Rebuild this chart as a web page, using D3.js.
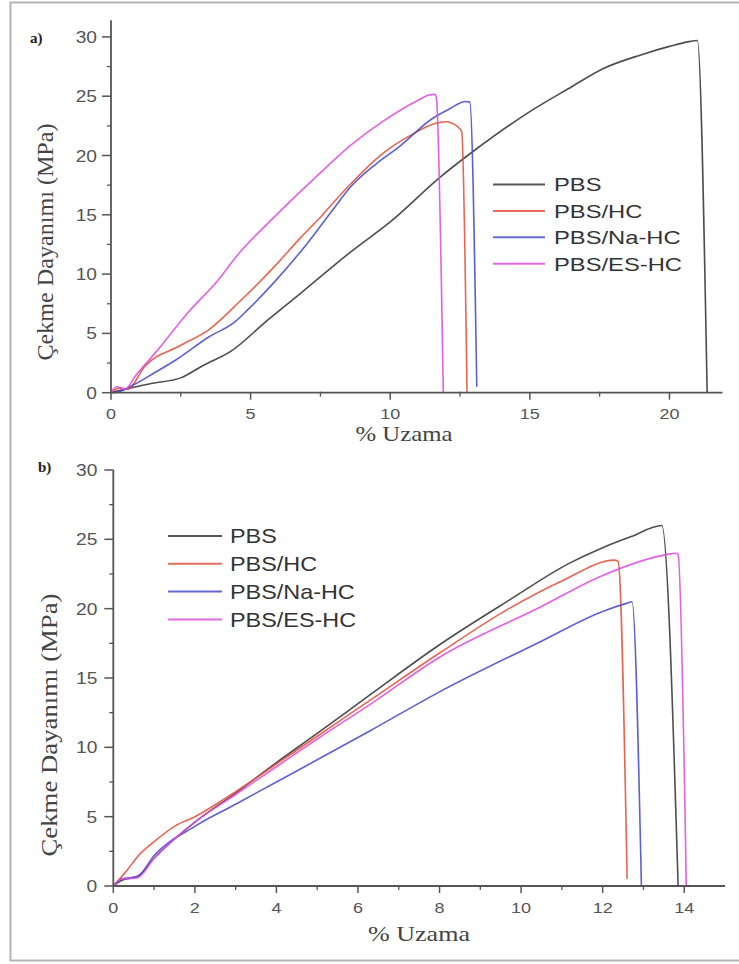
<!DOCTYPE html>
<html>
<head>
<meta charset="utf-8">
<script src="https://cdn.jsdelivr.net/npm/d3@7/dist/d3.min.js"></script>
<style>
  html, body { margin: 0; padding: 0; background: #fff; }
  svg { display: block; }
</style>
</head>
<body>
<svg id="chart" width="739" height="964"></svg>
<script>
// ---------- DATA ----------
const seriesNames = ["PBS", "PBS/HC", "PBS/Na-HC", "PBS/ES-HC"];

// Panel a) strain (%) / stress (MPa)
const aPBS_x   = [0, 0.5, 1.5, 2.5, 3.3, 4.3, 5.6, 6.8, 8.6, 10.0, 11.8, 13.0, 15.0, 16.5, 17.6, 19.0, 20.0, 20.7, 21.0, 21.35];
const aPBS_y   = [0, 0.3, 0.8, 1.25, 2.3, 3.5, 6.1, 8.4, 11.9, 14.4, 18.2, 20.4, 23.7, 25.8, 27.3, 28.5, 29.2, 29.6, 29.7, 0.05];
const aHC_x    = [0, 0.3, 0.6, 1.2, 2.5, 3.5, 4.7, 5.8, 6.8, 7.5, 8.3, 9.75, 10.8, 11.6, 12.0, 12.4, 12.56, 12.75];
const aHC_y    = [0, 0.4, 0.3, 2.2, 4.0, 5.3, 7.9, 10.5, 13.1, 14.8, 16.9, 20.2, 21.8, 22.7, 22.85, 22.45, 22.0, 0.05];
const aNa_x    = [0, 0.3, 0.8, 1.5, 2.35, 3.5, 4.4, 4.9, 5.8, 7.0, 8.0, 8.6, 9.5, 10.35, 11.5, 12.1, 12.7, 12.85, 13.1];
const aNa_y    = [0, 0.1, 0.65, 1.6, 2.8, 4.7, 5.9, 7.0, 9.2, 12.5, 15.6, 17.4, 19.3, 20.8, 23.1, 23.9, 24.55, 24.5, 0.5];
const aES_x    = [0, 0.2, 0.5, 0.9, 1.6, 2.7, 3.8, 4.6, 5.8, 6.8, 7.3, 8.6, 9.75, 10.95, 11.4, 11.6, 11.65, 11.9];
const aES_y    = [0, 0.5, 0.3, 1.5, 3.4, 6.6, 9.4, 11.8, 14.7, 17.0, 18.1, 20.9, 22.9, 24.6, 25.1, 25.15, 24.9, 0.05];

// Panel b)
const bPBS_x   = [0, 0.2, 0.6, 1.0, 2.0, 3.0, 4.0, 5.0, 6.3, 8.0, 9.7, 11.2, 12.0, 12.7, 13.45, 13.85];
const bPBS_y   = [0, 0.4, 0.7, 2.0, 4.6, 6.7, 8.9, 11.0, 13.8, 17.4, 20.6, 23.3, 24.4, 25.2, 26.0, 0.05];
const bHC_x    = [0, 0.3, 0.65, 1.0, 1.5, 2.0, 3.0, 4.0, 5.0, 6.3, 8.0, 9.7, 11.0, 12.3, 12.38, 12.6];
const bHC_y    = [0, 1.0, 2.3, 3.2, 4.3, 5.0, 6.8, 8.8, 10.8, 13.4, 16.8, 20.0, 22.0, 23.5, 23.4, 0.5];
const bNa_x    = [0, 0.2, 0.6, 1.0, 2.0, 3.0, 4.0, 5.0, 6.3, 8.0, 10.46, 12.0, 12.6, 12.72, 12.95];
const bNa_y    = [0, 0.5, 0.7, 2.2, 4.3, 5.9, 7.5, 9.1, 11.2, 14.0, 17.6, 19.8, 20.4, 20.5, 0.05];
const bES_x    = [0, 0.2, 0.6, 1.0, 2.0, 3.0, 4.0, 5.0, 6.3, 8.0, 10.46, 12.0, 13.56, 13.8, 13.85, 14.05];
const bES_y    = [0, 0.5, 0.6, 2.0, 4.6, 6.6, 8.6, 10.6, 13.1, 16.5, 20.1, 22.4, 23.9, 24.0, 23.9, 0.05];

const aXTicks = [0, 5, 10, 15, 20];
const bXTicks = [0, 2, 4, 6, 8, 10, 12, 14];
const yTicks  = [0, 5, 10, 15, 20, 25, 30];

const yLabel = "Çekme Dayanımı (MPa)";
const xLabel = "% Uzama";

// ---------- STYLE ----------
const colors = ["#3a3a3a", "#e2553e", "#4b4fcc", "#e04ee0"];
const axisColor = "#555";
const tickTextColor = "#555";

const svg = d3.select("#chart");

// frame
svg.append("rect").attr("x", 10.5).attr("y", 2.5).attr("width", 760).attr("height", 958)
   .attr("fill", "none").attr("stroke", "#b4b4b4").attr("stroke-width", 2);

function zip(xs, ys) { return xs.map((x, i) => [x, ys[i]]); }

function panel(cfg) {
  const x = d3.scaleLinear().domain(cfg.xDomain).range(cfg.xRange);
  const y = d3.scaleLinear().domain(cfg.yDomain).range(cfg.yRange);
  const g = svg.append("g");

  // curves
  const line = d3.line().x(d => x(d[0])).y(d => y(d[1])).curve(d3.curveMonotoneX);
  cfg.series.forEach((s, i) => {
    g.append("path").datum(s).attr("d", line)
      .attr("fill", "none").attr("stroke", colors[i]).attr("stroke-width", 1.6)
      .attr("stroke-linejoin", "round").attr("stroke-opacity", 0.9);
  });

  // axes lines
  const y0 = y(0);
  g.append("line").attr("x1", x(0)).attr("x2", cfg.xRange[1]).attr("y1", y0).attr("y2", y0)
    .attr("stroke", axisColor).attr("stroke-width", 1.8);
  g.append("line").attr("x1", x(0)).attr("x2", x(0)).attr("y1", y0).attr("y2", cfg.yRange[1])
    .attr("stroke", axisColor).attr("stroke-width", 1.8);

  // x major ticks
  cfg.xTicks.forEach(t => {
    g.append("line").attr("x1", x(t)).attr("x2", x(t)).attr("y1", y0).attr("y2", y0 + 7)
      .attr("stroke", axisColor).attr("stroke-width", 1.5);
    g.append("text").attr("transform", `translate(${x(t)},${y0 + cfg.xLabelOff}) scale(1.2,1)`)
      .attr("text-anchor", "middle").attr("font-family", "Liberation Sans, Arial, sans-serif")
      .attr("font-size", 15).attr("fill", tickTextColor).text(t);
  });
  // x minor ticks
  for (let i = 0; i < cfg.xTicks.length; i++) {
    const step = cfg.xTicks[1] - cfg.xTicks[0];
    const m = cfg.xTicks[i] + step / 2;
    if (x(m) < cfg.xRange[1]) {
      g.append("line").attr("x1", x(m)).attr("x2", x(m)).attr("y1", y0 - 1).attr("y2", y0 + 4)
        .attr("stroke", axisColor).attr("stroke-width", 1.3);
    }
  }
  // y major ticks
  yTicks.forEach(t => {
    g.append("line").attr("x1", x(0) - 9).attr("x2", x(0)).attr("y1", y(t)).attr("y2", y(t))
      .attr("stroke", axisColor).attr("stroke-width", 1.5);
    g.append("text").attr("transform", `translate(${x(0) - cfg.yLabelOff},${y(t) + 6}) scale(1.2,1)`)
      .attr("text-anchor", "end").attr("font-family", "Liberation Sans, Arial, sans-serif")
      .attr("font-size", 16).attr("fill", tickTextColor).text(t);
    const m = t + 2.5;
    if (y(m) > cfg.yRange[1]) {
      g.append("line").attr("x1", x(0) - 4).attr("x2", x(0)).attr("y1", y(m)).attr("y2", y(m))
        .attr("stroke", axisColor).attr("stroke-width", 1.3);
    }
  });

  // axis titles
  g.append("text").attr("transform", `translate(${cfg.yTitle[0]},${cfg.yTitle[1]}) rotate(-90)`)
    .attr("text-anchor", "middle").attr("font-family", "Liberation Serif, Times New Roman, serif")
    .attr("font-size", 23).attr("fill", "#444")
    .attr("textLength", cfg.yTitle[2]).attr("lengthAdjust", "spacingAndGlyphs").text(yLabel);
  g.append("text").attr("x", cfg.xTitle[0]).attr("y", cfg.xTitle[1])
    .attr("text-anchor", "middle").attr("font-family", "Liberation Serif, Times New Roman, serif")
    .attr("font-size", 21).attr("fill", "#444")
    .attr("textLength", cfg.xTitle[2]).attr("lengthAdjust", "spacingAndGlyphs").text(xLabel);

  // panel label
  g.append("text").attr("x", cfg.tag[0]).attr("y", cfg.tag[1])
    .attr("font-family", "Liberation Serif, Times New Roman, serif").attr("font-weight", "bold")
    .attr("font-size", 15).attr("fill", "#222").text(cfg.tag[2]);

  // legend
  const L = cfg.legend;
  seriesNames.forEach((n, i) => {
    const ly = L.y + i * L.dy;
    g.append("line").attr("x1", L.x1).attr("x2", L.x2).attr("y1", ly).attr("y2", ly)
      .attr("stroke", colors[i]).attr("stroke-width", 2).attr("stroke-opacity", 0.85);
    g.append("text").attr("transform", `translate(${L.tx},${ly + L.fs * 0.36}) scale(${L.sx},1)`)
      .attr("font-family", "Liberation Sans, Arial, sans-serif").attr("font-size", L.fs)
      .attr("fill", "#333").text(n);
  });
}

panel({
  xDomain: [0, 21.9], xRange: [111, 722.5],
  yDomain: [0, 31.4], yRange: [392.7, 20.3],
  xTicks: aXTicks, xLabelOff: 26, yLabelOff: 14,
  series: [zip(aPBS_x, aPBS_y), zip(aHC_x, aHC_y), zip(aNa_x, aNa_y), zip(aES_x, aES_y)],
  yTitle: [53, 242, 237], xTitle: [404, 441, 97],
  tag: [30, 43, "a)"],
  legend: { x1: 493, x2: 545, tx: 554, y: 184.5, dy: 26.4, fs: 19, sx: 1.25 }
});

panel({
  xDomain: [0, 15], xRange: [113.3, 725],
  yDomain: [0, 30], yRange: [886, 470],
  xTicks: bXTicks, xLabelOff: 27, yLabelOff: 16,
  series: [zip(bPBS_x, bPBS_y), zip(bHC_x, bHC_y), zip(bNa_x, bNa_y), zip(bES_x, bES_y)],
  yTitle: [57, 725, 263], xTitle: [419, 941, 102],
  tag: [38, 472, "b)"],
  legend: { x1: 168, x2: 222, tx: 230, y: 536, dy: 27.8, fs: 20, sx: 1.17 }
});
</script>
</body>
</html>
